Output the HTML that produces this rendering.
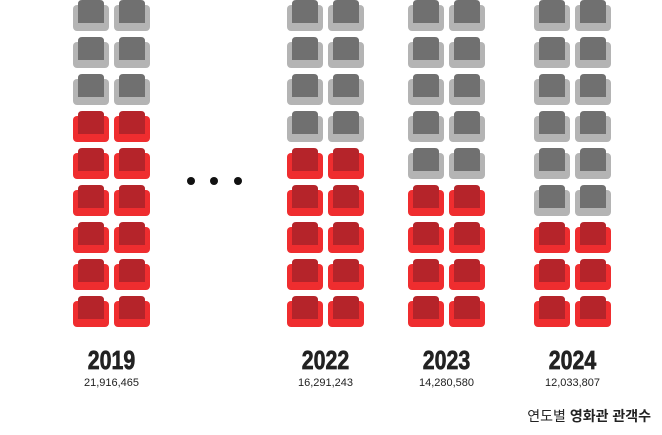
<!DOCTYPE html>
<html><head><meta charset="utf-8"><style>
body{margin:0;width:662px;height:430px;background:#fff;overflow:hidden;font-family:"Liberation Sans","Noto Sans CJK KR",sans-serif}
</style></head><body>
<svg id="c" width="662" height="430"></svg>
<script>
const years=["2019","2022","2023","2024"];
const audience=["21,916,465","16,291,243","14,280,580","12,033,807"];
const redRows=[6,5,4,3];
const totalRows=9;
const colX=[73,287,408,534];
const svg=document.getElementById('c');
const NS='http://www.w3.org/2000/svg';
function mk(t,a,p){const e=document.createElementNS(NS,t);for(const k in a)e.setAttribute(k,a[k]);(p||svg).appendChild(e);return e;}
function seat(x,y,red,g){
  const o=red?'#ef2d2f':'#b4b4b4', i=red?'#b5242a':'#707070';
  mk('rect',{x:x,y:y+5,width:36,height:26,rx:4,fill:o},g);
  mk('path',{d:`M${x+5} ${y+23} V${y+4} Q${x+5} ${y} ${x+9} ${y} H${x+27} Q${x+31} ${y} ${x+31} ${y+4} V${y+23} Z`,fill:i},g);
}
years.forEach((yr,c)=>{
  const g=mk('g',{});
  
  
  for(let r=0;r<totalRows;r++){
    const isRed=r>=totalRows-redRows[c];
    for(let s=0;s<2;s++) seat(colX[c]+s*41,r*37,isRed,g);
  }
  const cx=colX[c]+38.5;
  const t=mk('text',{x:cx,y:369,'text-anchor':'middle','font-size':26,'font-weight':'bold',fill:'#222',stroke:'#222','stroke-width':0.7,'font-family':'"Liberation Sans Narrow","Liberation Sans",sans-serif',transform:`translate(${cx} 0) scale(0.82 1) translate(${-cx} 0)`});
  t.textContent=yr;
  
  
  const n=mk('text',{x:cx,y:386,'text-anchor':'middle','font-size':11,fill:'#222'});
  n.textContent=audience[c];
  
  
});
[191,214,238].forEach(x=>{
  const d=mk('circle',{cx:x,cy:181,r:4,fill:'#111'});
  
  
});
const f=mk('text',{x:651,y:421,'text-anchor':'end','font-size':14,fill:'#222'});


f.innerHTML='연도별 <tspan font-weight="bold">영화관 관객수</tspan>';
</script>
</body></html>
